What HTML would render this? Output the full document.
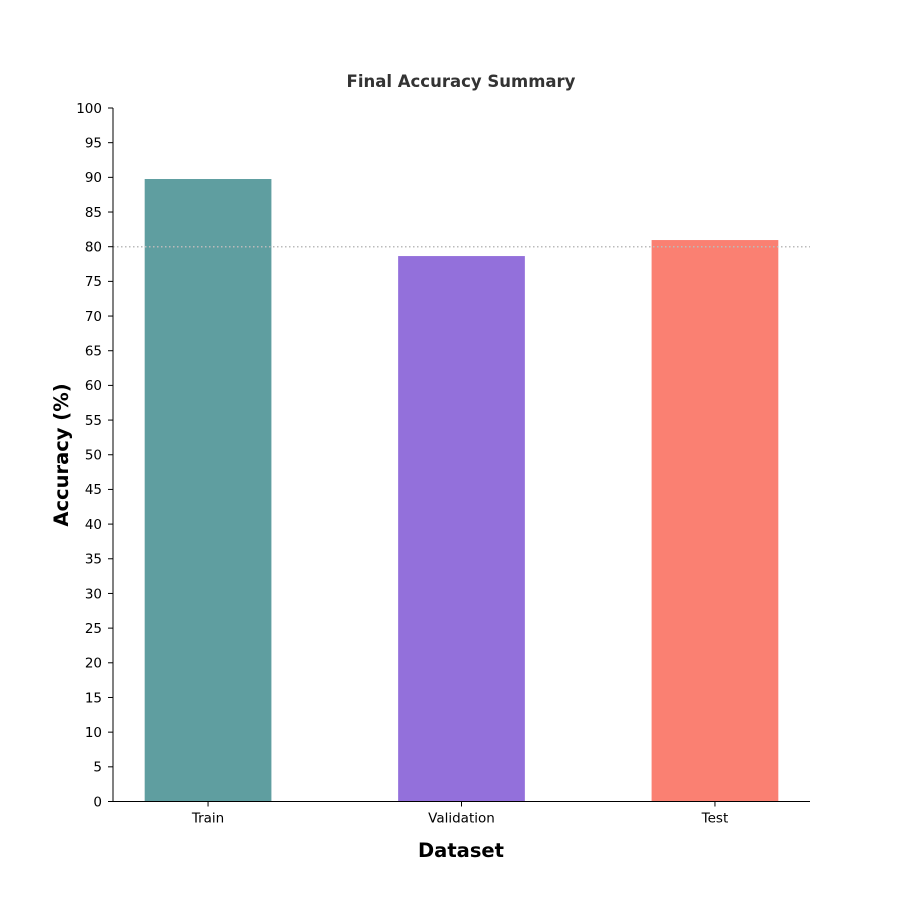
<!DOCTYPE html>
<html><head><meta charset="utf-8"><style>
body{margin:0;background:#fff}
svg text{font-family:"DejaVu Sans","Liberation Sans",sans-serif}
</style></head><body>
<svg id="chart" width="900" height="900" xmlns="http://www.w3.org/2000/svg">
<rect width="900" height="900" fill="#fff"/>
<text x="461" y="87" text-anchor="middle" font-size="16.5" font-weight="bold" fill="#333">Final Accuracy Summary</text>
<g id="bars"></g>
<g id="yaxis"></g>
<g id="xaxis"></g>
<text x="461" y="857" text-anchor="middle" font-size="19.5" font-weight="bold">Dataset</text>
<text transform="translate(68,455) rotate(-90)" text-anchor="middle" font-size="19.5" font-weight="bold">Accuracy (%)</text>
</svg>
<script>
const categories = ["Train","Validation","Test"];
const values = [89.76,78.65,80.96];
const colors = ["#5f9ea0","#9370db","#fa8072"];
const yTicks = [0,5,10,15,20,25,30,35,40,45,50,55,60,65,70,75,80,85,90,95,100];
const refLine = [80];
const NS="http://www.w3.org/2000/svg";
const L=113,R=810,T=108,B=801.5;
const xmin=-0.375,xmax=2.375;
const xs=i=>L+(i-xmin)/(xmax-xmin)*(R-L);
const ys=v=>B-v/100*(B-T);
const uw=(R-L)/(xmax-xmin);
function mk(tag,attrs,parent){const e=document.createElementNS(NS,tag);for(const k in attrs)e.setAttribute(k,attrs[k]);parent.appendChild(e);return e;}
const bars=document.getElementById('bars'),ya=document.getElementById('yaxis'),xa=document.getElementById('xaxis');
categories.forEach((c,i)=>{
  const r=mk('rect',{x:xs(i)-uw*0.25,y:ys(values[i]),width:uw*0.5,height:ys(0)-ys(values[i]),fill:colors[i]},bars);
  
  
  mk('line',{x1:xs(i),x2:xs(i),y1:B,y2:B+5,stroke:'#000'},xa);
  const lb=mk('text',{x:xs(i),y:B+21,'text-anchor':'middle','font-size':13.5},xa);
  lb.textContent=c;
  
  
});
refLine.forEach(v=>{
  const l=mk('line',{x1:L,x2:R,y1:ys(v),y2:ys(v),stroke:'#bbb','stroke-width':1.5,'stroke-dasharray':'1.5,2.5'},bars);
  
  
});
yTicks.forEach(v=>{
  mk('line',{x1:L-5,x2:L,y1:ys(v),y2:ys(v),stroke:'#000'},ya);
  const t=mk('text',{x:L-11,y:ys(v)+4.8,'text-anchor':'end','font-size':13.5},ya);
  t.textContent=v;
  
  
});
const ay=mk('line',{x1:L,x2:L,y1:T,y2:B,stroke:'#000'},ya);


const ax=mk('line',{x1:L,x2:R,y1:B,y2:B,stroke:'#000'},xa);


</script>
</body></html>
